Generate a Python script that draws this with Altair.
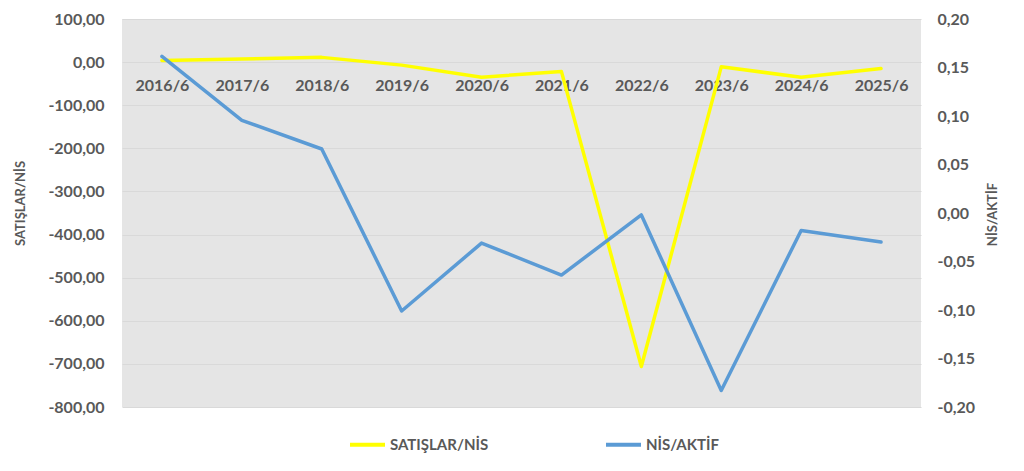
import altair as alt
import pandas as pd

periods = ["2016/6", "2017/6", "2018/6", "2019/6", "2020/6",
           "2021/6", "2022/6", "2023/6", "2024/6", "2025/6"]
satislar_nis = [4, 7, 11, -7, -35, -22, -706, -11, -35, -15]
nis_aktif = [0.1615, 0.0955, 0.066, -0.101, -0.031, -0.064, -0.002, -0.183, -0.018, -0.030]

left_ticks = [100, 0, -100, -200, -300, -400, -500, -600, -700, -800]
right_ticks = [0.20, 0.15, 0.10, 0.05, 0.0, -0.05, -0.10, -0.15, -0.20]

S1 = "SATIŞLAR/NİS"
S2 = "NİS/AKTİF"

df1 = pd.DataFrame({"period": periods, "v": satislar_nis, "series": S1})
df2 = pd.DataFrame({"period": periods, "v": nis_aktif, "series": S2})

FONT = "Lato"
GREY = "#595959"
fmt = "replace(replace(format(datum.value, '.2f'), '.', ','), '\u2212', '-')"

color = alt.Color(
    "series:N",
    scale=alt.Scale(domain=[S1, S2], range=["#FFFF00", "#5B9BD5"]),
    legend=alt.Legend(
        title=None, orient="none", legendX=226, legendY=406,
        direction="horizontal", symbolType="stroke", symbolSize=1225,
        symbolStrokeWidth=4, labelOffset=3, columnPadding=109,
        labelFont=FONT, labelFontSize=15, labelFontWeight="bold",
        labelColor=GREY,
    ),
)

xaxis = alt.Axis(
    title=None, orient="bottom", offset=-344.9, domain=False, ticks=False,
    tickSize=0, grid=False, labelAngle=0, labelPadding=15, zindex=0,
    labelFont=FONT, labelFontSize=16, labelFontWeight="bold", labelColor=GREY,
)
xenc = alt.X("period:N", sort=periods,
             scale=alt.Scale(type="point", padding=0.5), axis=xaxis)

line1 = alt.Chart(df1).mark_line(strokeWidth=3.5, strokeJoin="round", strokeCap="round").encode(
    x=xenc,
    y=alt.Y(
        "v:Q", scale=alt.Scale(domain=[-800, 100], nice=False, zero=False),
        axis=alt.Axis(
            title=S1, values=left_ticks, labelExpr=fmt, grid=True,
            gridColor="#D9D9D9", gridWidth=1, domain=False, ticks=False,
            labelPadding=18, labelFont=FONT, labelFontSize=16,
            labelFontWeight="bold", labelColor=GREY,
            titleFont=FONT, titleFontSize=13, titleFontWeight="bold",
            titleColor=GREY, titleAngle=270, titleBaseline="middle",
            titleX=-102, titleY=184,
        ),
    ),
    color=color,
)

line2 = alt.Chart(df2).mark_line(strokeWidth=3.5, strokeJoin="round", strokeCap="round").encode(
    x=xenc,
    y=alt.Y(
        "v:Q", scale=alt.Scale(domain=[-0.2, 0.2], nice=False, zero=False),
        axis=alt.Axis(
            title=S2, orient="right", values=right_ticks, labelExpr=fmt,
            grid=False, domain=False, ticks=False, labelPadding=16,
            labelFont=FONT, labelFontSize=16, labelFontWeight="bold",
            labelColor=GREY, titleFont=FONT, titleFontSize=13,
            titleFontWeight="bold", titleColor=GREY, titleAngle=270,
            titleBaseline="middle", titleX=71, titleY=195,
        ),
    ),
    color=color,
)

chart = (
    alt.layer(line1, line2)
    .resolve_scale(y="independent")
    .properties(
        width=799, height=388,
        autosize=alt.AutoSizeParams(type="none"),
        padding={"left": 114, "top": 11, "right": 90, "bottom": 56},
    )
    .configure(background="white")
    .configure_view(fill="#E5E5E5", stroke=None)
)

chart.save("out.html", embed_options={"renderer": "svg", "actions": False})
